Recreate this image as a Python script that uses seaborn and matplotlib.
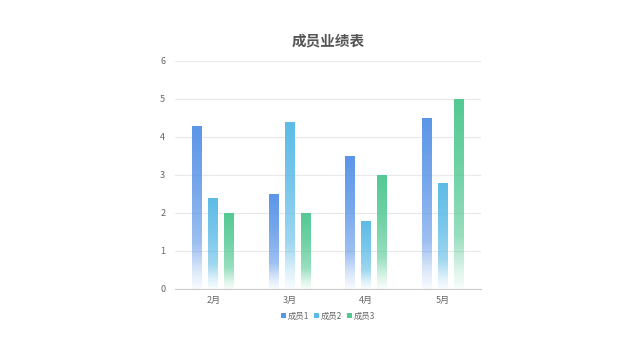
import numpy as np
import pandas as pd
import matplotlib
matplotlib.use("Agg")
import matplotlib.pyplot as plt
import seaborn as sns
from matplotlib.colors import to_rgb
from matplotlib.patches import Patch

months = ["2月", "3月", "4月", "5月"]
series_names = ["成员1", "成员2", "成员3"]
member1 = [4.3, 2.5, 3.5, 4.5]
member2 = [2.4, 4.4, 1.8, 2.8]
member3 = [2.0, 2.0, 3.0, 5.0]
colors = ["#5b95e8", "#5cbbe6", "#52c993"]
title = "成员业绩表"

df = pd.DataFrame({
    "month": months * 3,
    "member": sum([[s] * len(months) for s in series_names], []),
    "value": member1 + member2 + member3,
})

sns.set_theme(style="white")
plt.rcParams["font.family"] = ["Noto Sans CJK SC", "DejaVu Sans"]

fig = plt.figure(figsize=(6.22, 3.39), dpi=100)
ax = fig.add_axes([175 / 622, 1 - 289 / 339, 306 / 622, 228 / 339])

sns.barplot(data=df, x="month", y="value", hue="member", order=months,
            hue_order=series_names, palette=colors, width=0.63, gap=0.38,
            ax=ax, legend=False, errorbar=None)

ax.set_ylim(0, 6)
ax.set_xlim(-0.5, len(months) - 0.5)

# gradient fill for bars
for i, patch in enumerate(ax.patches):
    col = to_rgb(colors[i // len(months)])
    x0 = patch.get_x()
    w = patch.get_width()
    h = patch.get_height()
    n = 200
    f = np.linspace(0, 1, n)  # 0 bottom -> 1 top
    alpha = np.interp(f, [0, 0.1, 0.28, 0.6, 1.0], [0.04, 0.2, 0.6, 0.82, 1.0])
    img = np.zeros((n, 1, 4))
    img[:, 0, :3] = col
    img[:, 0, 3] = alpha
    im = ax.imshow(img, extent=[x0, x0 + w, 0, h], origin="lower",
                   aspect="auto", zorder=2, interpolation="bilinear")
    im.set_clip_path(patch)
    patch.set_facecolor("none")
    patch.set_edgecolor((1, 1, 1, 0.5))
    patch.set_linewidth(0.6)

ax.set_ylim(0, 6)
ax.set_xlim(-0.5, len(months) - 0.5)

ax.set_yticks(range(0, 7))
ax.yaxis.grid(True, color="#e8e8e8", linewidth=0.8)
ax.set_axisbelow(True)
for s in ["top", "right", "left"]:
    ax.spines[s].set_visible(False)
ax.spines["bottom"].set_color("#cccccc")
ax.spines["bottom"].set_linewidth(0.8)

ax.set_xticks(np.arange(-0.5, len(months), 1.0), minor=True)
ax.tick_params(axis="x", which="minor", length=3.5, color="#cccccc", width=0.8, direction="out")
ax.tick_params(axis="x", which="major", length=0, labelsize=6.5, labelcolor="#666666", pad=5)
ax.tick_params(axis="y", length=0, labelsize=6.5, labelcolor="#666666", pad=7)
ax.set_xlabel("")
ax.set_ylabel("")

fig.text(328 / 622, 1 - 40 / 339, title, ha="center", va="center",
         fontsize=10.5, fontweight="bold", color="#555555")

handles = [Patch(facecolor=c, edgecolor="none") for c in colors]
fig.legend(handles, series_names, loc="center", bbox_to_anchor=(328 / 622, 1 - 316 / 339),
           ncol=3, frameon=False, fontsize=6, handlelength=0.6, handleheight=0.6,
           handletextpad=0.3, columnspacing=0.5, labelcolor="#666666")

fig.savefig("out.png", dpi=100, facecolor="white")
